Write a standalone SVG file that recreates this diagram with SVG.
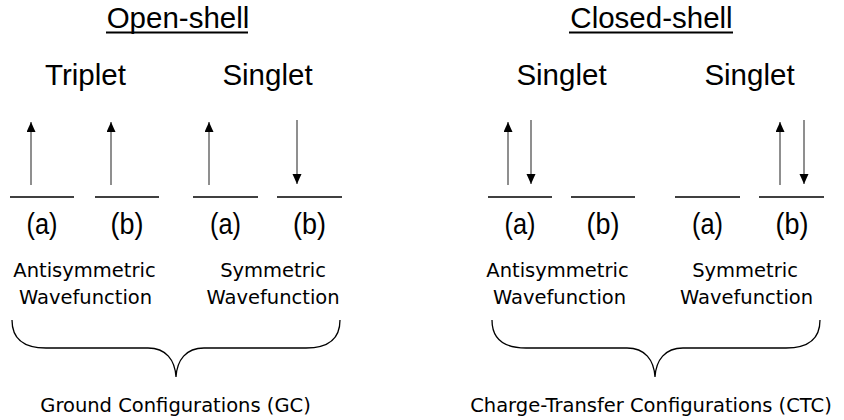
<svg xmlns="http://www.w3.org/2000/svg" width="844" height="420" viewBox="0 0 844 420">
<defs>
<marker id="ah" markerUnits="userSpaceOnUse" markerWidth="11" markerHeight="10" refX="10" refY="4.5" orient="auto">
<path d="M0,0 L10,4.5 L0,9 z" fill="#000"/>
</marker>
<style>
.title{font-family:"Liberation Sans",Arial,sans-serif;font-size:29.5px;fill:#000;text-anchor:middle}
.lbl{font-family:"Liberation Sans",Arial,sans-serif;font-size:30px;fill:#000;text-anchor:middle}
.sm{font-family:"DejaVu Sans",Verdana,sans-serif;font-size:19.5px;fill:#000;text-anchor:middle}
.orb{stroke:#000;stroke-width:1.4;fill:none}
.spin{stroke:#333;stroke-width:1.1;fill:none;marker-end:url(#ah)}
.ul{stroke:#000;stroke-width:2}
.brace{stroke:#000;stroke-width:1.3;fill:none}
</style>
</defs>
<rect width="844" height="420" fill="#fff"/>

<g id="open-shell-header">
<text class="title" x="178" y="28">Open-shell</text>
<line class="ul" x1="106" y1="32.5" x2="248" y2="32.5"/>
</g>
<g id="closed-shell-header">
<text class="title" x="651.5" y="28">Closed-shell</text>
<line class="ul" x1="569" y1="32.5" x2="733" y2="32.5"/>
</g>

<g id="triplet-label"><text class="title" x="85.5" y="85">Triplet</text></g>
<g id="singlet-open-label"><text class="title" x="267.5" y="85">Singlet</text></g>
<g id="singlet-closed-anti-label"><text class="title" x="561.5" y="85">Singlet</text></g>
<g id="singlet-closed-sym-label"><text class="title" x="749.5" y="85">Singlet</text></g>

<g id="orbitals">
<line class="orb" x1="10" y1="197" x2="74" y2="197"/>
<line class="orb" x1="95" y1="197" x2="159" y2="197"/>
<line class="orb" x1="193" y1="197" x2="258" y2="197"/>
<line class="orb" x1="277" y1="197" x2="342" y2="197"/>
<line class="orb" x1="488" y1="197" x2="552" y2="197"/>
<line class="orb" x1="571" y1="197" x2="635" y2="197"/>
<line class="orb" x1="675" y1="197" x2="740" y2="197"/>
<line class="orb" x1="759" y1="197" x2="824" y2="197"/>
</g>

<g id="spins">
<line class="spin" x1="31" y1="185" x2="31" y2="122"/>
<line class="spin" x1="111" y1="185" x2="111" y2="122"/>
<line class="spin" x1="209" y1="185" x2="209" y2="122"/>
<line class="spin" x1="297" y1="120" x2="297" y2="184"/>
<line class="spin" x1="508" y1="185" x2="508" y2="122"/>
<line class="spin" x1="531" y1="120" x2="531" y2="184"/>
<line class="spin" x1="780" y1="185" x2="780" y2="122"/>
<line class="spin" x1="804" y1="120" x2="804" y2="184"/>
</g>

<g id="site-labels">
<text class="lbl" x="42" y="234" textLength="31" lengthAdjust="spacingAndGlyphs">(a)</text>
<text class="lbl" x="127" y="234" textLength="33" lengthAdjust="spacingAndGlyphs">(b)</text>
<text class="lbl" x="225.5" y="234" textLength="31" lengthAdjust="spacingAndGlyphs">(a)</text>
<text class="lbl" x="309.5" y="234" textLength="33" lengthAdjust="spacingAndGlyphs">(b)</text>
<text class="lbl" x="520" y="234" textLength="31" lengthAdjust="spacingAndGlyphs">(a)</text>
<text class="lbl" x="603" y="234" textLength="33" lengthAdjust="spacingAndGlyphs">(b)</text>
<text class="lbl" x="707.5" y="234" textLength="31" lengthAdjust="spacingAndGlyphs">(a)</text>
<text class="lbl" x="792" y="234" textLength="33" lengthAdjust="spacingAndGlyphs">(b)</text>
</g>

<g id="open-anti-wf">
<text class="sm" x="84.5" y="277">Antisymmetric</text>
<text class="sm" x="85.5" y="303.5">Wavefunction</text>
</g>
<g id="open-sym-wf">
<text class="sm" x="273" y="277">Symmetric</text>
<text class="sm" x="273" y="303.5">Wavefunction</text>
</g>
<g id="closed-anti-wf">
<text class="sm" x="557.5" y="277">Antisymmetric</text>
<text class="sm" x="559.5" y="303.5">Wavefunction</text>
</g>
<g id="closed-sym-wf">
<text class="sm" x="745" y="277">Symmetric</text>
<text class="sm" x="746.5" y="303.5">Wavefunction</text>
</g>

<g id="braces">
<path class="brace" d="M12,320 C12,338 22,348 46,348 L148,348 C166,348 175,360 176,377 C177,360 186,348 204,348 L306,348 C330,348 340,338 340,320"/>
<path class="brace" d="M492,320 C492,338 502,348 526,348 L627,348 C645,348 654,360 655,377 C656,360 665,348 683,348 L786,348 C810,348 820,338 820,320"/>
</g>

<g id="gc-label"><text class="sm" x="175.5" y="412">Ground Configurations (GC)</text></g>
<g id="ctc-label"><text class="sm" x="651" y="412">Charge-Transfer Configurations (CTC)</text></g>
</svg>
